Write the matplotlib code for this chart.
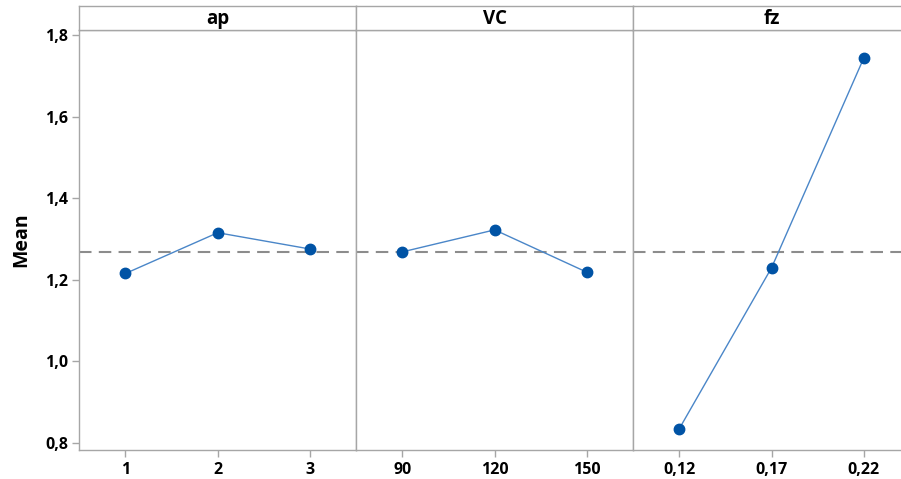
import numpy as np
import matplotlib.pyplot as plt

plt.rcParams['font.family'] = ['Open Sans', 'DejaVu Sans']

factors = ['ap', 'VC', 'fz']
levels = [['1', '2', '3'], ['90', '120', '150'], ['0,12', '0,17', '0,22']]
means = [[1.215, 1.315, 1.275],
         [1.268, 1.322, 1.218],
         [0.834, 1.229, 1.744]]
grand_mean = 1.268
y_ticks = [0.8, 1.0, 1.2, 1.4, 1.6, 1.8]

W, H = 901, 479
fig = plt.figure(figsize=(W / 100, H / 100), dpi=100)

frame = '#a6a6a6'
left, right = 79.3, 910.0
top_hdr, top_data, bottom = 6.0, 29.5, 450.0
pw = (right - left) / 3

for i, fac in enumerate(factors):
    x0 = left + i * pw
    ax = fig.add_axes([x0 / W, 1 - bottom / H, pw / W, (bottom - top_data) / H])
    xs = np.arange(3)
    ax.axhline(grand_mean, color='#8c8c8c', lw=1.5, ls=(0, (6, 3.5)), zorder=1)
    ax.plot(xs, means[i], color='#4a86c8', lw=1.0, zorder=2)
    ax.plot(xs, means[i], 'o', color='#0053a5', ms=7.5, zorder=3)
    ax.set_xlim(-0.5, 2.5)
    ax.set_ylim(0.782, 1.8135)
    ax.set_xticks(xs)
    ax.set_xticklabels(levels[i], fontsize=11.5, fontweight='bold')
    for s in ax.spines.values():
        s.set_color(frame)
        s.set_linewidth(1.0)
    ax.tick_params(axis='x', colors=frame, labelcolor='black', length=5, width=1, pad=4)
    if i == 0:
        ax.set_yticks(y_ticks)
        ax.set_yticklabels([f'{v:.1f}'.replace('.', ',') for v in y_ticks],
                           fontsize=11.5, fontweight='bold')
        ax.tick_params(axis='y', colors=frame, labelcolor='black', length=5, width=1, pad=3)
        ax.set_ylabel('Mean', fontsize=14, fontweight='bold', labelpad=10)
    else:
        ax.tick_params(axis='y', left=False, labelleft=False)

    hdr = fig.add_axes([x0 / W, 1 - top_data / H, pw / W, (top_data - top_hdr) / H])
    hdr.set_xticks([])
    hdr.set_yticks([])
    for s in hdr.spines.values():
        s.set_color(frame)
        s.set_linewidth(1.0)
    hdr.text(0.5, 0.45, fac, ha='center', va='center', fontsize=13.5,
             fontweight='bold', transform=hdr.transAxes)

fig.savefig('out.png', dpi=100)
